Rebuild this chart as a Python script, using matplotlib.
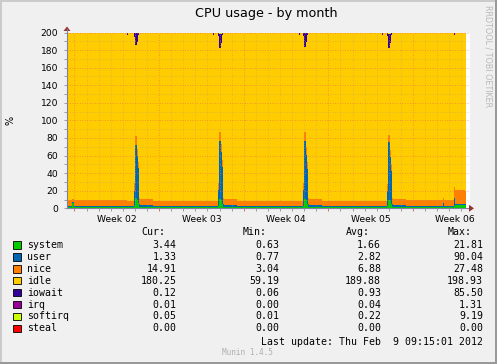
import datetime as dt
import numpy as np
import matplotlib
matplotlib.use("Agg")
import matplotlib.pyplot as plt
import matplotlib.dates as mdates
from matplotlib.patches import Polygon, Rectangle
from matplotlib.lines import Line2D

# ---------------- data ----------------
series_names = ["system", "user", "nice", "idle", "iowait", "irq", "softirq", "steal"]
series_colors = ["#00CC00", "#0066B3", "#FF8000", "#FFCC00", "#330099", "#990099", "#CCFF00", "#FF0000"]

start_time = dt.datetime(2012, 1, 7, 9, 15)
# hours after start_time at which each consolidated value begins
hours = [0, 10, 14, 120, 122,
         132, 134, 138, 140, 142, 144, 170,
         290, 292,
         300, 302, 306, 308, 310, 312, 338,
         460, 462,
         468, 470, 474, 476, 478, 480, 506,
         626, 628,
         636, 638, 642, 644, 646, 648, 672,
         746, 748, 768, 770, 790, 792]

system = [1.1, 5.5, 1.2, 1.0, 1.0,
          3.0, 12.0, 10.0, 6.0, 2.0, 1.2, 1.0,
          1.0, 1.0,
          2.5, 11.0, 9.0, 5.0, 2.0, 1.2, 1.0,
          1.0, 1.0,
          2.5, 11.0, 9.0, 5.0, 2.0, 1.2, 1.0,
          1.0, 1.0,
          2.5, 10.0, 8.0, 5.0, 2.0, 1.2, 1.1,
          1.2, 1.1, 3.0, 3.4, 3.44, 3.44]
user = [1.6, 1.2, 1.7, 1.6, 1.6,
        17.0, 60.0, 50.0, 40.0, 3.0, 2.5, 1.6,
        1.6, 1.6,
        18.0, 66.0, 55.0, 42.0, 3.0, 2.5, 1.6,
        1.6, 1.6,
        18.0, 66.0, 52.0, 40.0, 3.0, 2.5, 1.6,
        1.6, 1.6,
        17.0, 65.0, 50.0, 38.0, 3.0, 2.5, 1.7,
        4.5, 1.7, 9.0, 1.6, 1.33, 1.33]
nice = [6.4, 4.3, 6.3, 6.1, 6.1,
        9.0, 10.0, 8.0, 7.0, 7.0, 7.0, 6.1,
        6.1, 6.1,
        8.0, 10.0, 9.0, 8.0, 7.0, 7.3, 6.1,
        6.1, 6.1,
        8.0, 10.0, 9.0, 8.0, 7.0, 7.3, 6.1,
        6.1, 6.1,
        8.0, 8.0, 8.0, 7.0, 7.0, 7.3, 7.0,
        5.5, 7.0, 12.0, 15.5, 14.91, 14.91]
idle = [190.5, 188.5, 190.4, 188.7, 190.9,
        165.8, 103.7, 121.7, 143.8, 187.4, 188.9, 190.9,
        188.7, 190.9,
        167.3, 94.9, 115.0, 141.7, 187.4, 188.6, 190.9,
        188.7, 190.9,
        167.3, 96.4, 119.7, 143.8, 187.4, 188.6, 190.9,
        188.7, 190.9,
        168.3, 99.9, 122.0, 146.7, 187.4, 188.6, 189.8,
        188.4, 189.8, 172.6, 179.2, 180.25, 180.25]
iowait = [0.3, 0.4, 0.3, 2.5, 0.3,
          5.0, 14.0, 10.0, 3.0, 0.5, 0.3, 0.3,
          2.5, 0.3,
          4.0, 16.0, 10.0, 3.0, 0.5, 0.3, 0.3,
          2.5, 0.3,
          4.0, 16.0, 10.0, 3.0, 0.5, 0.3, 0.3,
          2.5, 0.3,
          4.0, 15.0, 10.0, 3.0, 0.5, 0.3, 0.3,
          0.3, 0.3, 2.0, 0.2, 0.12, 0.12]
irq = [0, 0, 0, 0, 0,
       0, 0, 0, 0, 0, 0, 0,
       0, 0,
       0, 0.1, 0, 0, 0, 0, 0,
       0, 0,
       0, 0.1, 0, 0, 0, 0, 0,
       0, 0,
       0, 0.1, 0, 0, 0, 0, 0,
       0, 0, 1.3, 0, 0.01, 0.01]
softirq = [0.1, 0.1, 0.1, 0.1, 0.1,
           0.2, 0.3, 0.3, 0.2, 0.1, 0.1, 0.1,
           0.1, 0.1,
           0.2, 2.0, 2.0, 0.3, 0.1, 0.1, 0.1,
           0.1, 0.1,
           0.2, 0.5, 0.3, 0.2, 0.1, 0.1, 0.1,
           0.1, 0.1,
           0.2, 2.0, 2.0, 0.3, 0.1, 0.1, 0.1,
           0.1, 0.1, 0.1, 0.1, 0.05, 0.05]
steal = [0.0] * len(hours)

week_labels = ["Week 02", "Week 03", "Week 04", "Week 05", "Week 06"]
week_starts = [dt.datetime(2012, 1, 8), dt.datetime(2012, 1, 15), dt.datetime(2012, 1, 22),
               dt.datetime(2012, 1, 29), dt.datetime(2012, 2, 5)]

cur_vals = ["3.44", "1.33", "14.91", "180.25", "0.12", "0.01", "0.05", "0.00"]
min_vals = ["0.63", "0.77", "3.04", "59.19", "0.06", "0.00", "0.01", "0.00"]
avg_vals = ["1.66", "2.82", "6.88", "189.88", "0.93", "0.04", "0.22", "0.00"]
max_vals = ["21.81", "90.04", "27.48", "198.93", "85.50", "1.31", "9.19", "0.00"]

# ---------------- figure ----------------
W, H = 497, 364
fig = plt.figure(figsize=(W / 100, H / 100), dpi=100)
fig.patch.set_facecolor("#F0F0F0")

def P(x, y):
    return (x / W, 1 - y / H)

ax_l, ax_r, ax_t, ax_b = 67, 469.5, 32.5, 208.3
ax = fig.add_axes([ax_l / W, 1 - ax_b / H, (ax_r - ax_l) / W, (ax_b - ax_t) / H])
ax.set_facecolor("white")

times = [start_time + dt.timedelta(hours=h) for h in hours]
x = mdates.date2num(times)
data = [system, user, nice, idle, iowait, irq, softirq, steal]
cum = np.cumsum(np.array(data, dtype=float), axis=0)
prev = np.zeros(len(x))
for i, name in enumerate(series_names):
    ax.fill_between(x, prev, cum[i], step="post", color=series_colors[i], lw=0, zorder=1)
    prev = cum[i]

end_px_days = (ax_r - ax_l) / ((466 - 67) / 33.0)
ax.set_xlim(mdates.date2num(start_time), mdates.date2num(start_time) + end_px_days)
ax.set_ylim(0, 200)

# grid
ax.set_axisbelow(False)
day0 = dt.datetime(2012, 1, 8)
days = [mdates.date2num(day0 + dt.timedelta(days=d)) for d in range(0, 33)]
majors = [mdates.date2num(w) for w in week_starts]
minor_days = [d for d in days if d not in majors]
ax.set_xticks(majors)
ax.set_xticks(minor_days, minor=True)
ax.set_xticklabels([])
ax.set_yticks(np.arange(0, 201, 20))
ax.set_yticks(np.arange(10, 200, 20), minor=True)
ax.grid(True, which="minor", color="#B8A070", lw=0.6, ls=(0, (1, 2)), alpha=0.6)
ax.grid(True, which="major", color="#F07050", lw=0.6, ls=(0, (1, 2)), alpha=0.8)
ax.tick_params(axis="both", which="both", direction="out", colors="#909090", length=2.5, width=0.6)
ax.tick_params(axis="y", which="major", labelsize=6.6, labelcolor="black", pad=4)
ax.tick_params(axis="x", which="major", colors="#D06060")
for lab in ax.get_yticklabels():
    lab.set_fontfamily("DejaVu Sans")
for s in ["top", "right"]:
    ax.spines[s].set_visible(False)
for s in ["left", "bottom"]:
    ax.spines[s].set_color("#8080A0")
    ax.spines[s].set_linewidth(0.8)

# week labels centred mid-week
for lab, ws in zip(week_labels, week_starts):
    xm = mdates.date2num(ws + dt.timedelta(days=3.5))
    ax.text(xm, -0.04, lab, transform=ax.get_xaxis_transform(), ha="center", va="top",
            fontsize=6.6, family="DejaVu Sans", clip_on=False)

# axis extensions and arrows
arrow_c = "#993333"
fig.add_artist(Line2D([ax_l / W, ax_l / W], [1 - ax_t / H, 1 - 29 / H], color="#8080A0", lw=0.8))
fig.add_artist(Polygon([P(63.5, 31), P(70.5, 31), P(67, 26.5)], closed=True, color=arrow_c, lw=0))
fig.add_artist(Line2D([ax_r / W, 470 / W], [1 - ax_b / H, 1 - ax_b / H], color="#8080A0", lw=0.8))
fig.add_artist(Polygon([P(469, 204.8), P(469, 211.8), P(474, 208.3)], closed=True, color=arrow_c, lw=0))

# title and labels
fig.text(*P(266.5, 14), "CPU usage - by month", ha="center", va="center", fontsize=9.2, family="DejaVu Sans")
fig.text(*P(10, 120), "%", ha="center", va="center", rotation=90, fontsize=7, family="DejaVu Sans")
fig.text(*P(488, 56), "RRDTOOL / TOBI OETIKER", ha="center", va="center", rotation=270,
         fontsize=5.8, color="#B8B8B8", family="DejaVu Sans")

# legend table
mono = "DejaVu Sans Mono"
fs = 7.1
fig.text(*P(141, 232.3), "Cur:", ha="left", va="center", fontsize=fs, family=mono)
fig.text(*P(243, 232.3), "Min:", ha="left", va="center", fontsize=fs, family=mono)
fig.text(*P(346, 232.3), "Avg:", ha="left", va="center", fontsize=fs, family=mono)
fig.text(*P(447.5, 232.3), "Max:", ha="left", va="center", fontsize=fs, family=mono)
for i, name in enumerate(series_names):
    yy = 245 + i * 11.9
    fig.add_artist(Rectangle(P(13.3, yy + 3.7), 7.4 / W, 7.4 / H, facecolor=series_colors[i],
                             edgecolor="black", lw=0.6))
    fig.text(*P(27, yy), name, ha="left", va="center", fontsize=fs, family=mono)
    fig.text(*P(176.5, yy), cur_vals[i], ha="right", va="center", fontsize=fs, family=mono)
    fig.text(*P(279.5, yy), min_vals[i], ha="right", va="center", fontsize=fs, family=mono)
    fig.text(*P(381, yy), avg_vals[i], ha="right", va="center", fontsize=fs, family=mono)
    fig.text(*P(483, yy), max_vals[i], ha="right", va="center", fontsize=fs, family=mono)
fig.text(*P(483, 342.3), "Last update: Thu Feb  9 09:15:01 2012", ha="right", va="center",
         fontsize=fs, family=mono)
fig.text(*P(247, 352.7), "Munin 1.4.5", ha="center", va="center", fontsize=5.6, color="#B0B0B0", family=mono)

# outer frame shading
fig.add_artist(Rectangle((0, 0), 2 / W, 1, color="#CBCBCB", lw=0))
fig.add_artist(Rectangle((0, 1 - 2 / H), 1, 2 / H, color="#CBCBCB", lw=0))
fig.add_artist(Rectangle((1 - 2 / W, 0), 2 / W, 1, color="#999999", lw=0))
fig.add_artist(Rectangle((0, 0), 1, 2 / H, color="#999999", lw=0))

fig.savefig("out.png", dpi=100, facecolor=fig.get_facecolor())
